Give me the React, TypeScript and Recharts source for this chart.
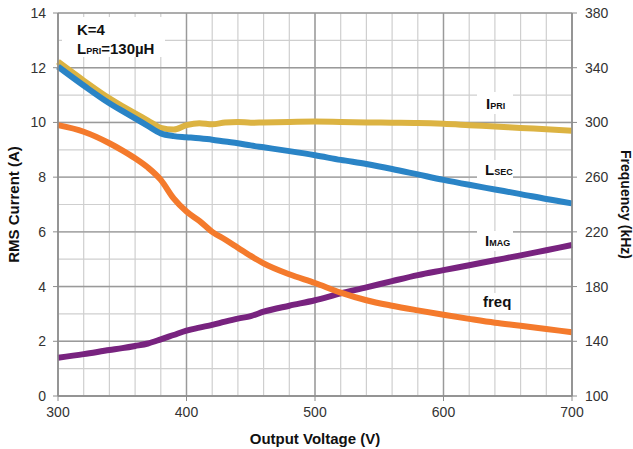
import { LineChart, Line, XAxis, YAxis, CartesianGrid } from 'recharts'

const voltage = [300, 320, 340, 350, 360, 370, 380, 390, 400, 410, 420, 430, 440, 450, 460, 480, 500, 520, 540, 560, 580, 600, 620, 640, 660, 680, 700]

const iPri = [12.22, 11.53, 10.88, 10.6, 10.33, 10.07, 9.8, 9.74, 9.9, 9.97, 9.93, 10.0, 10.02, 9.99, 10.0, 10.02, 10.03, 10.02, 10.0, 9.99, 9.98, 9.95, 9.9, 9.85, 9.8, 9.75, 9.7]
const lSec = [12.04, 11.35, 10.7, 10.42, 10.15, 9.87, 9.6, 9.5, 9.46, 9.42, 9.37, 9.3, 9.24, 9.16, 9.09, 8.95, 8.8, 8.63, 8.48, 8.3, 8.1, 7.9, 7.72, 7.55, 7.38, 7.2, 7.04]
const iMag = [1.4, 1.53, 1.68, 1.75, 1.83, 1.92, 2.07, 2.23, 2.39, 2.5, 2.6, 2.72, 2.83, 2.92, 3.08, 3.3, 3.5, 3.75, 3.97, 4.2, 4.42, 4.6, 4.78, 4.96, 5.14, 5.33, 5.52]
const freq = [298, 293.2, 284.8, 279.6, 273.8, 267, 258, 244.4, 234.8, 228, 220, 214.4, 208.4, 202.4, 197, 189, 182.6, 175.6, 170, 166, 162.6, 159.4, 156.4, 153.6, 151.4, 149, 146.6]

const xTicks = [300, 400, 500, 600, 700]
const xMinor = [300, 320, 340, 360, 380, 400, 420, 440, 460, 480, 500, 520, 540, 560, 580, 600, 620, 640, 660, 680, 700]
const leftTicks = [0, 2, 4, 6, 8, 10, 12, 14]
const leftMinor = [0, 1, 2, 3, 4, 5, 6, 7, 8, 9, 10, 11, 12, 13, 14]
const rightTicks = [100, 140, 180, 220, 260, 300, 340, 380]

const data = voltage.map((v, i) => ({ v, iPri: iPri[i], lSec: lSec[i], iMag: iMag[i], freq: freq[i] }))

const TICK = { fontSize: 14, fill: '#333', fontFamily: '"Liberation Sans", Arial, sans-serif' }
const TITLE = '"Liberation Sans Narrow", "Liberation Sans", Arial, sans-serif'
const AXIS = '#8c8c8c'

export default function App() {
  return (
    <div style={{ position: 'fixed', left: 0, top: 0, width: 633, height: 449, background: '#fff' }}>
      <LineChart width={633} height={449} data={data} margin={{ top: 13, right: 0, bottom: 0, left: 0 }}>
        {/* hidden axes only carry the minor grid positions */}
        <XAxis xAxisId="minor" dataKey="v" type="number" domain={[300, 700]} ticks={xMinor} interval={0} hide />
        <YAxis yAxisId="minor" dataKey="lSec" type="number" domain={[0, 14]} allowDataOverflow ticks={leftMinor} interval={0} hide />
        <CartesianGrid xAxisId="minor" yAxisId="minor" stroke="#cfcfcf" strokeWidth={1.2} />
        <CartesianGrid yAxisId="left" stroke="#9a9a9a" strokeWidth={1.4} />
        <XAxis
          dataKey="v"
          type="number"
          domain={[300, 700]}
          ticks={xTicks}
          interval={0}
          height={53}
          axisLine={{ stroke: AXIS, strokeWidth: 1.5 }}
          tickLine={{ stroke: AXIS }}
          tickSize={5}
          tickMargin={6}
          tick={TICK}
          label={{ value: 'Output Voltage (V)', position: 'insideBottom', offset: 5, style: { fontFamily: TITLE, fontWeight: 'bold', fontSize: 15, fill: '#111' } }}
        />
        <YAxis
          yAxisId="left"
          domain={[0, 14]}
          ticks={leftTicks}
          interval={0}
          width={58}
          axisLine={{ stroke: AXIS, strokeWidth: 1.5 }}
          tickLine={{ stroke: AXIS }}
          tickSize={5}
          tickMargin={7}
          tick={TICK}
          label={{ value: 'RMS Current (A)', angle: -90, position: 'insideLeft', offset: 14, style: { textAnchor: 'middle', fontFamily: TITLE, fontWeight: 'bold', fontSize: 15, fill: '#111' } }}
        />
        <YAxis
          yAxisId="right"
          orientation="right"
          domain={[100, 380]}
          ticks={rightTicks}
          interval={0}
          width={61}
          axisLine={{ stroke: AXIS, strokeWidth: 1.5 }}
          tickLine={{ stroke: AXIS }}
          tickSize={5}
          tickMargin={8}
          tick={TICK}
          label={{ value: 'Frequency (kHz)', angle: 90, position: 'insideRight', offset: 7, style: { textAnchor: 'middle', fontFamily: TITLE, fontWeight: 'bold', fontSize: 14, fill: '#111' } }}
        />
        <Line yAxisId="left" type="monotone" dataKey="iPri" stroke="#dcb342" strokeWidth={6} dot={false} isAnimationActive={false} />
        <Line yAxisId="left" type="monotone" dataKey="lSec" stroke="#2a84c6" strokeWidth={6} dot={false} isAnimationActive={false} />
        <Line yAxisId="left" type="monotone" dataKey="iMag" stroke="#78237f" strokeWidth={6} dot={false} isAnimationActive={false} />
        <Line yAxisId="right" type="monotone" dataKey="freq" stroke="#f47a2c" strokeWidth={6} dot={false} isAnimationActive={false} />
      </LineChart>
      <svg width={633} height={449} style={{ position: 'absolute', left: 0, top: 0, pointerEvents: 'none' }}>
        <g fontFamily={TITLE} fontWeight="bold" fill="#111">
          <rect x={62} y={17} width={103} height={40} fill="#fff" />
          <text x={77} y={35} fontSize={15}>K=4</text>
          <text x={77} y={54} fontSize={15}>L<tspan fontSize={9}>PRI</tspan>=130µH</text>

          <rect x={477} y={92} width={36} height={22} fill="#fff" />
          <text x={486} y={109} fontSize={15}>I<tspan fontSize={9}>PRI</tspan></text>

          <rect x={477} y={160} width={36} height={20} fill="#fff" />
          <text x={485} y={175} fontSize={15}>L<tspan fontSize={9}>SEC</tspan></text>

          <rect x={477} y={231} width={36} height={20} fill="#fff" />
          <text x={485} y={246} fontSize={15}>I<tspan fontSize={9}>MAG</tspan></text>

          <rect x={479} y={293} width={34} height={20} fill="#fff" />
          <text x={483} y={307} fontSize={15}>freq</text>
        </g>
      </svg>
    </div>
  )
}
